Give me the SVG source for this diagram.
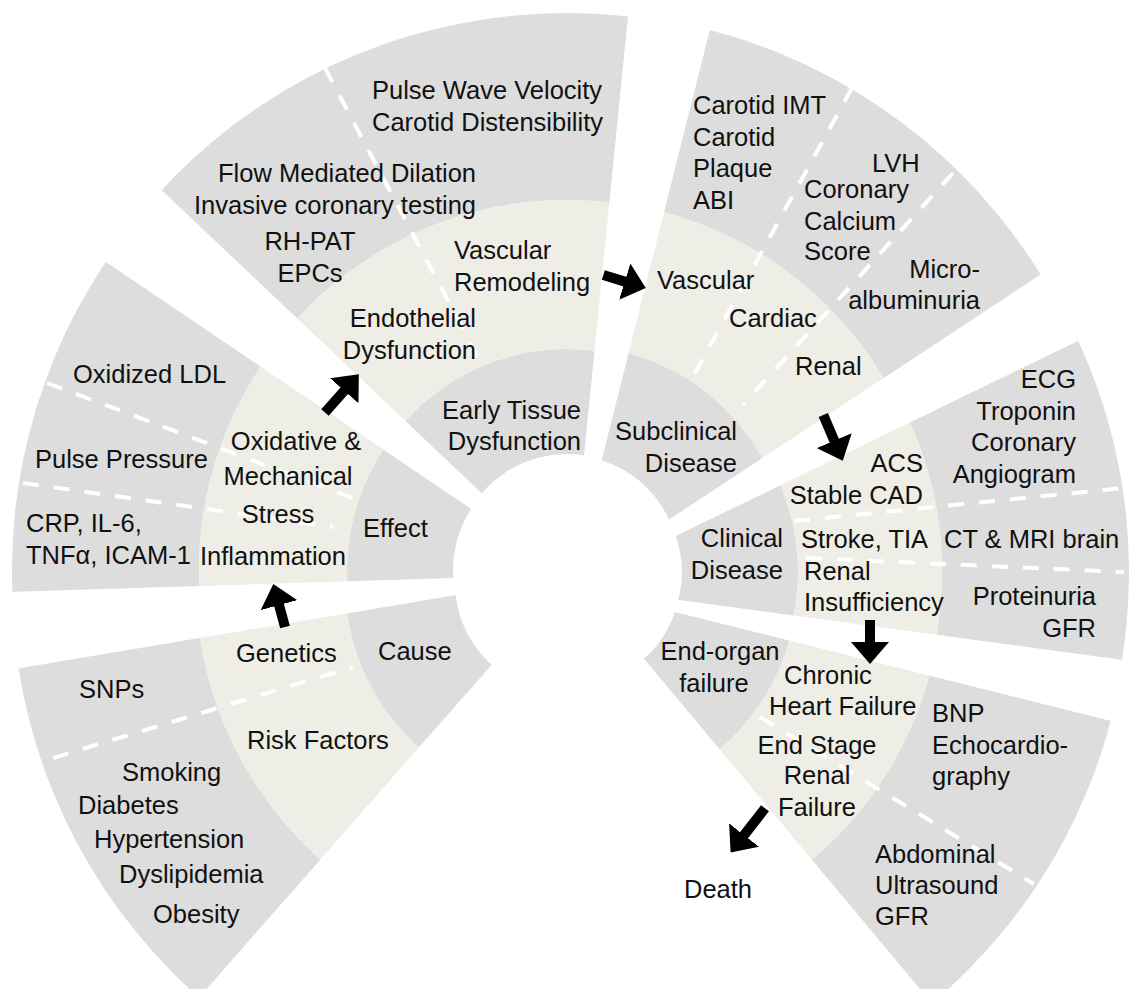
<svg xmlns="http://www.w3.org/2000/svg" width="1131" height="989" viewBox="0 0 1131 989">
<style>
.g{fill:#dddddd;fill-rule:evenodd}
.b{fill:#eeeee6;fill-rule:evenodd}
text{font-family:"Liberation Sans",Arial,sans-serif;font-size:25.5px;fill:#111}
.e{text-anchor:end}
.m{text-anchor:middle}
.d{stroke:#ffffff;stroke-width:4;stroke-dasharray:16 15;fill:none}
.ar{stroke:#000;stroke-width:10;fill:none;marker-end:url(#ah)}
</style>
<defs>
<marker id="ah" markerUnits="userSpaceOnUse" viewBox="0 0 22 38" refX="1" refY="19" markerWidth="22" markerHeight="38" orient="auto"><path d="M0,0 L22,19 L0,38 Z" fill="#000"/></marker>
<clipPath id="cA"><polygon points="522,584 -111,690 -128,983 80,1133 560,587"/></clipPath>
<clipPath id="cB"><polygon points="520,576 -119,596 -204,350 -2,189 524.5,545"/></clipPath>
<clipPath id="cC"><polygon points="529.5,538.5 67.8,101.2 293.4,-185.8 641.6,-119.2 577.4,521.3"/></clipPath>
<clipPath id="cD"><polygon points="585.5,524.6 742.5,-99.9 1028.9,-90.3 1151.5,201.5 612.5,556.8"/></clipPath>
<clipPath id="cE"><polygon points="613.4,566.2 1201.7,281 1376,532 1257.8,678 612.5,591"/></clipPath>
<clipPath id="cF"><polygon points="615.3,597.2 1253.3,756.6 1231.3,1038.9 1002.5,1087.7 603.7,610.6"/></clipPath>
</defs>
<rect width="1131" height="989" fill="#fff"/>

<g id="sector-cause">
<g clip-path="url(#cA)">
<path class="g" d="M12,583a553,553 0 1 0 1106,0a553,553 0 1 0 -1106,0Z M196,583a369,369 0 1 0 738,0a369,369 0 1 0 -738,0Z M345,583a220,220 0 1 0 440,0a220,220 0 1 0 -440,0Z M455,583a110,110 0 1 0 220,0a110,110 0 1 0 -220,0Z"/>
<path class="b" d="M196,583a369,369 0 1 0 738,0a369,369 0 1 0 -738,0Z M345,583a220,220 0 1 0 440,0a220,220 0 1 0 -440,0Z"/>
</g>
<line class="d" x1="53" y1="758" x2="353" y2="667"/>
<text x="236" y="662">Genetics</text>
<text x="378" y="660">Cause</text>
<text x="79" y="698">SNPs</text>
<text x="247" y="749">Risk Factors</text>
<text x="122" y="781">Smoking</text>
<text x="78" y="814">Diabetes</text>
<text x="94" y="848">Hypertension</text>
<text x="119" y="883">Dyslipidemia</text>
<text x="153" y="923">Obesity</text>
</g>

<g id="sector-effect">
<g clip-path="url(#cB)">
<path class="g" d="M12,570a553,553 0 1 0 1106,0a553,553 0 1 0 -1106,0Z M199,570a366,366 0 1 0 732,0a366,366 0 1 0 -732,0Z M347,570a218,218 0 1 0 436,0a218,218 0 1 0 -436,0Z M453,570a112,112 0 1 0 224,0a112,112 0 1 0 -224,0Z"/>
<path class="b" d="M199,570a366,366 0 1 0 732,0a366,366 0 1 0 -732,0Z M347,570a218,218 0 1 0 436,0a218,218 0 1 0 -436,0Z"/>
</g>
<line class="d" x1="47" y1="383" x2="358" y2="500"/>
<line class="d" x1="23" y1="483" x2="333" y2="527"/>
<text x="73" y="383">Oxidized LDL</text>
<text x="35" y="468">Pulse Pressure</text>
<text x="26" y="532">CRP, IL-6,</text>
<text x="26" y="564">TNFα, ICAM-1</text>
<text class="m" x="296" y="450">Oxidative &amp;</text>
<text class="m" x="288" y="485">Mechanical</text>
<text class="m" x="278" y="523">Stress</text>
<text class="m" x="273" y="565">Inflammation</text>
<text x="363" y="537">Effect</text>
</g>

<g id="sector-early-tissue">
<g clip-path="url(#cC)">
<path class="g" d="M14,566a553,553 0 1 0 1106,0a553,553 0 1 0 -1106,0Z M201,566a366,366 0 1 0 732,0a366,366 0 1 0 -732,0Z M350,566a217,217 0 1 0 434,0a217,217 0 1 0 -434,0Z M455,566a112,112 0 1 0 224,0a112,112 0 1 0 -224,0Z"/>
<path class="b" d="M201,566a366,366 0 1 0 732,0a366,366 0 1 0 -732,0Z M350,566a217,217 0 1 0 434,0a217,217 0 1 0 -434,0Z"/>
</g>
<line class="d" x1="325" y1="68" x2="483" y2="367"/>
<text x="372" y="99">Pulse Wave Velocity</text>
<text x="372" y="131">Carotid Distensibility</text>
<text class="e" x="476" y="182">Flow Mediated Dilation</text>
<text class="e" x="476" y="213.5">Invasive coronary testing</text>
<text class="m" x="310" y="250">RH-PAT</text>
<text class="m" x="310" y="281.5">EPCs</text>
<text x="454" y="259">Vascular</text>
<text x="454" y="291">Remodeling</text>
<text class="e" x="476" y="327">Endothelial</text>
<text class="e" x="476" y="358.5">Dysfunction</text>
<text class="e" x="581" y="418.5">Early Tissue</text>
<text class="e" x="581" y="450">Dysfunction</text>
</g>

<g id="sector-subclinical">
<g clip-path="url(#cD)">
<path class="g" d="M17,565a553,553 0 1 0 1106,0a553,553 0 1 0 -1106,0Z M205,565a365,365 0 1 0 730,0a365,365 0 1 0 -730,0Z M350,565a220,220 0 1 0 440,0a220,220 0 1 0 -440,0Z M461,565a109,109 0 1 0 218,0a109,109 0 1 0 -218,0Z"/>
<path class="b" d="M205,565a365,365 0 1 0 730,0a365,365 0 1 0 -730,0Z M350,565a220,220 0 1 0 440,0a220,220 0 1 0 -440,0Z"/>
</g>
<line class="d" x1="852" y1="88" x2="690" y2="382"/>
<line class="d" x1="953" y1="173" x2="743" y2="405"/>
<text x="693" y="113.5">Carotid IMT</text>
<text x="693" y="145.5">Carotid</text>
<text x="693" y="177">Plaque</text>
<text x="693" y="208.5">ABI</text>
<text x="872" y="172">LVH</text>
<text x="804" y="197.5">Coronary</text>
<text x="804" y="229.5">Calcium</text>
<text x="804" y="260">Score</text>
<text class="e" x="980" y="277.5">Micro-</text>
<text class="e" x="980" y="308.5">albuminuria</text>
<text x="657" y="288.5">Vascular</text>
<text x="729" y="327">Cardiac</text>
<text x="795" y="375">Renal</text>
<text class="e" x="737" y="440">Subclinical</text>
<text class="e" x="737" y="472">Disease</text>
</g>

<g id="sector-clinical">
<g clip-path="url(#cE)">
<path class="g" d="M23,572a553,553 0 1 0 1106,0a553,553 0 1 0 -1106,0Z M210,572a366,366 0 1 0 732,0a366,366 0 1 0 -732,0Z M354,572a222,222 0 1 0 444,0a222,222 0 1 0 -444,0Z M470,572a106,106 0 1 0 212,0a106,106 0 1 0 -212,0Z"/>
<path class="b" d="M210,572a366,366 0 1 0 732,0a366,366 0 1 0 -732,0Z M354,572a222,222 0 1 0 444,0a222,222 0 1 0 -444,0Z"/>
</g>
<line class="d" x1="794" y1="521" x2="1124" y2="488"/>
<line class="d" x1="806" y1="558" x2="1124" y2="572"/>
<text class="e" x="1076" y="387.5">ECG</text>
<text class="e" x="1076" y="419.5">Troponin</text>
<text class="e" x="1076" y="451">Coronary</text>
<text class="e" x="1076" y="483">Angiogram</text>
<text class="e" x="923" y="472">ACS</text>
<text class="e" x="923" y="504">Stable CAD</text>
<text class="e" x="783" y="547">Clinical</text>
<text class="e" x="783" y="578.5">Disease</text>
<text x="801" y="547.5">Stroke, TIA</text>
<text x="804" y="580">Renal</text>
<text x="804" y="611">Insufficiency</text>
<text x="944" y="547.5">CT &amp; MRI brain</text>
<text class="e" x="1096" y="605">Proteinuria</text>
<text class="e" x="1096" y="637">GFR</text>
</g>

<g id="sector-end-organ">
<g clip-path="url(#cF)">
<path class="g" d="M23,580a553,553 0 1 0 1106,0a553,553 0 1 0 -1106,0Z M210,580a366,366 0 1 0 732,0a366,366 0 1 0 -732,0Z M354,580a222,222 0 1 0 444,0a222,222 0 1 0 -444,0Z M472,580a104,104 0 1 0 208,0a104,104 0 1 0 -208,0Z"/>
<path class="b" d="M210,580a366,366 0 1 0 732,0a366,366 0 1 0 -732,0Z M354,580a222,222 0 1 0 444,0a222,222 0 1 0 -444,0Z"/>
</g>
<line class="d" x1="760" y1="717" x2="1034" y2="884"/>
<text class="m" x="720" y="660">End-organ</text>
<text class="m" x="714" y="692">failure</text>
<text x="784" y="683.5">Chronic</text>
<text x="769" y="715">Heart Failure</text>
<text class="m" x="817" y="753.5">End Stage</text>
<text class="m" x="817" y="784">Renal</text>
<text class="m" x="817" y="816">Failure</text>
<text x="932" y="722">BNP</text>
<text x="932" y="754">Echocardio-</text>
<text x="932" y="785">graphy</text>
<text x="875" y="863">Abdominal</text>
<text x="875" y="894">Ultrasound</text>
<text x="875" y="925">GFR</text>
</g>

<g id="death">
<text x="684" y="898">Death</text>
</g>

<g id="connectors">
<line class="ar" x1="285" y1="627" x2="278.8" y2="604.2"/>
<line class="ar" x1="325" y1="412.5" x2="344.9" y2="390"/>
<line class="ar" x1="603.3" y1="275" x2="625.7" y2="281.9"/>
<line class="ar" x1="823.3" y1="415" x2="834.6" y2="441.5"/>
<line class="ar" x1="870" y1="620" x2="870" y2="643"/>
<line class="ar" x1="765" y1="808.3" x2="743.5" y2="835.9"/>
</g>
</svg>
